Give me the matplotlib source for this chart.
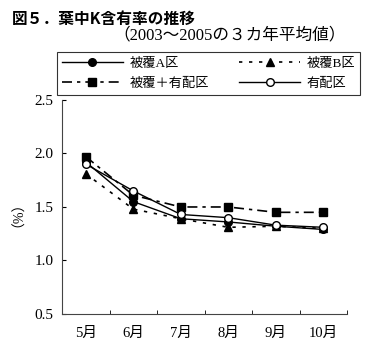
import numpy as np
import matplotlib
matplotlib.use("Agg")
import matplotlib.pyplot as plt

# 月と各区のK含有率(%)
months = ["5月", "6月", "7月", "8月", "9月", "10月"]
hifuku_a = [1.92, 1.55, 1.39, 1.36, 1.32, 1.29]
hifuku_b = [1.81, 1.48, 1.39, 1.31, 1.32, 1.30]
hifuku_yuhai = [1.97, 1.61, 1.50, 1.50, 1.45, 1.45]
yuhai = [1.90, 1.65, 1.43, 1.40, 1.33, 1.31]
yticks = [0.5, 1.0, 1.5, 2.0, 2.5]

plt.rcParams['font.family'] = ['Liberation Serif', 'Noto Sans CJK JP']
fig = plt.figure(figsize=(3.74, 3.52), dpi=100)
ax = fig.add_axes([0.166, 0.108, 0.762, 0.608])

x = np.arange(len(months))
la, = ax.plot(x, hifuku_a, color='black', lw=1.0, marker='o', ms=5.5, label='被覆A区')
lb, = ax.plot(x, hifuku_b, color='black', lw=1.2, ls=(0, (2, 4)), marker='^', ms=6, label='被覆B区')
lc, = ax.plot(x, hifuku_yuhai, color='black', lw=1.2, ls=(0, (6, 3, 2, 3)), marker='s', ms=6, label='被覆＋有配区')
ld, = ax.plot(x, yuhai, color='black', lw=1.0, marker='o', ms=5.5, mfc='white', label='有配区')

ax.set_xlim(-0.5, len(months) - 0.5)
ax.set_ylim(0.5, 2.5)
ax.set_xticks(x)
ax.set_xticklabels(months, fontsize=10.5)
ax.set_xticks(np.arange(len(months)) + 0.5, minor=True)
ax.tick_params(axis='x', which='major', length=0, pad=9)
ax.tick_params(axis='x', which='minor', direction='in', length=3)
ax.set_yticks(yticks)
ax.set_yticklabels([f'{v:.1f}' for v in yticks], fontsize=11)
ax.tick_params(axis='y', direction='in', length=3, pad=6)
for s in ['top', 'right']:
    ax.spines[s].set_visible(False)
ax.spines['left'].set_color('#444444')
ax.spines['bottom'].set_color('#444444')
ax.set_ylabel('（%）', fontsize=10, labelpad=12)

leg = fig.legend([la, lc, lb, ld], [la.get_label(), lc.get_label(), lb.get_label(), ld.get_label()],
                 loc='upper left', bbox_to_anchor=(0.152, 0.851),
                 ncol=2, frameon=True, fancybox=False, edgecolor='black', fontsize=9.5,
                 handlelength=4.6, handletextpad=0.5, borderaxespad=0, labelspacing=0.6,
                 columnspacing=2.3, borderpad=0.4)
leg.get_frame().set_linewidth(0.8)

fig.text(0.032, 0.945, '図５．葉中K含有率の推移', fontsize=11.3, fontweight='bold',
         family=['Noto Sans CJK JP'], va='center')
fig.text(0.925, 0.898, '（2003～2005の３カ年平均値）', fontsize=12, ha='right', va='center')

fig.savefig('out.png', dpi=100)
